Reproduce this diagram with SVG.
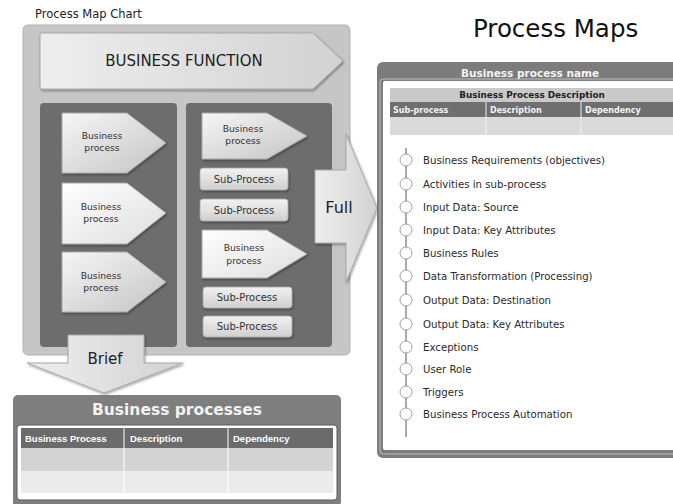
<svg xmlns="http://www.w3.org/2000/svg" width="673" height="504" viewBox="0 0 673 504">
<defs>
<linearGradient id="gArrow" x1="0" y1="0" x2="1" y2="1">
<stop offset="0" stop-color="#f6f6f6"/>
<stop offset="1" stop-color="#c4c4c4"/>
</linearGradient>
<linearGradient id="gArrowLight" x1="0" y1="0" x2="1" y2="1">
<stop offset="0" stop-color="#ffffff"/>
<stop offset="1" stop-color="#dedede"/>
</linearGradient>
<linearGradient id="gSub" x1="0" y1="0" x2="0" y2="1">
<stop offset="0" stop-color="#f2f2f2"/>
<stop offset="1" stop-color="#cfcfcf"/>
</linearGradient>
<linearGradient id="gBig" x1="0" y1="0" x2="1" y2="0">
<stop offset="0" stop-color="#eeeeee"/>
<stop offset="1" stop-color="#d2d2d2"/>
</linearGradient>
<filter id="sh" x="-10%" y="-10%" width="130%" height="130%">
<feDropShadow dx="1" dy="1.5" stdDeviation="1" flood-color="#000" flood-opacity="0.35"/>
</filter>
</defs>
<style>
text{font-family:"DejaVu Sans","Liberation Sans",sans-serif;}
.arrow{stroke:#a8a8a8;stroke-width:1;filter:url(#sh);}
.sub{fill:url(#gSub);stroke:#a8a8a8;stroke-width:0.8;filter:url(#sh);}
.bp{font-size:9.2px;fill:#333;text-anchor:middle;}
.sp{font-size:10px;fill:#333;text-anchor:middle;}
.item{font-size:10.2px;fill:#2a2a2a;}
.dot{fill:#fff;stroke:#a0a0a0;stroke-width:1;}
.hdr{font-size:9.5px;font-weight:bold;fill:#fff;font-family:"Liberation Sans",sans-serif;}
.shdr{font-size:8px;font-weight:bold;fill:#f4f4f4;}
</style>

<text x="35" y="18" font-size="11.5" fill="#222">Process Map Chart</text>
<text x="473" y="37" font-size="24.5" fill="#111">Process Maps</text>

<g id="chart-panel">
<rect x="23" y="25" width="327" height="330" rx="5" fill="#c6c6c6" stroke="#b2b2b2" stroke-width="1"/>
</g>

<g id="business-function">
<path class="arrow" d="M42,33 H313 L343,61 L313,89 H42 Q40,89 40,87 V35 Q40,33 42,33 Z" fill="url(#gBig)"/>
<text x="184" y="66" font-size="15" fill="#222" text-anchor="middle">BUSINESS FUNCTION</text>
</g>

<g id="left-panel">
<rect x="40" y="103" width="137" height="244" rx="4" fill="#6d6d6d"/>
</g>
<g id="right-panel">
<rect x="186" y="103" width="146" height="244" rx="4" fill="#6d6d6d"/>
</g>

<g id="bp-left-1">
<path class="arrow" d="M62,113 H127 L166,143 L127,173 H62 Z" fill="url(#gArrow)"/>
<text class="bp" x="102" y="139">Business</text>
<text class="bp" x="102" y="151">process</text>
</g>
<g id="bp-left-2">
<path class="arrow" d="M62,183 H127 L166,213 L127,244 H62 Z" fill="url(#gArrowLight)"/>
<text class="bp" x="101" y="210">Business</text>
<text class="bp" x="101" y="222">process</text>
</g>
<g id="bp-left-3">
<path class="arrow" d="M62,252 H127 L166,282 L127,312 H62 Z" fill="url(#gArrow)"/>
<text class="bp" x="101" y="279">Business</text>
<text class="bp" x="101" y="291">process</text>
</g>

<g id="bp-right-1">
<path class="arrow" d="M202,113 H267 L307,136 L267,159 H202 Z" fill="url(#gArrow)"/>
<text class="bp" x="243" y="132">Business</text>
<text class="bp" x="243" y="144">process</text>
</g>
<g id="sub-1">
<rect class="sub" x="200" y="168" width="88" height="22" rx="3"/>
<text class="sp" x="244" y="183">Sub-Process</text>
</g>
<g id="sub-2">
<rect class="sub" x="200" y="199" width="88" height="22" rx="3"/>
<text class="sp" x="244" y="214">Sub-Process</text>
</g>
<g id="bp-right-2">
<path class="arrow" d="M202,230 H267 L307,254 L267,278 H202 Z" fill="url(#gArrowLight)"/>
<text class="bp" x="244" y="251">Business</text>
<text class="bp" x="244" y="264">process</text>
</g>
<g id="sub-3">
<rect class="sub" x="203" y="287" width="89" height="21" rx="3"/>
<text class="sp" x="247" y="301">Sub-Process</text>
</g>
<g id="sub-4">
<rect class="sub" x="203" y="316" width="89" height="21" rx="3"/>
<text class="sp" x="247" y="330">Sub-Process</text>
</g>

<g id="connectors">
<g id="full-arrow">
<path class="arrow" d="M315,170 H346 V134 L377,208 L346,282 V243 H315 Z" fill="url(#gBig)"/>
<text x="339" y="213" font-size="16" fill="#222" text-anchor="middle">Full</text>
</g>
<g id="brief-arrow">
<path class="arrow" d="M68,335 H144 V363 H183 L104,393 L27,363 H68 Z" fill="url(#gBig)"/>
<text x="105" y="364" font-size="15" fill="#222" text-anchor="middle">Brief</text>
</g>
</g>

<g id="business-processes">
<rect x="13" y="395" width="328" height="112" rx="5" fill="#7e7e7e"/>
<text x="177" y="415" font-size="15.5" font-weight="bold" fill="#f2f2f2" text-anchor="middle">Business processes</text>
<rect x="17" y="425" width="320" height="75" rx="3" fill="#ffffff" stroke="#5a5a5a" stroke-width="1"/>
<rect x="21" y="428" width="312" height="20" fill="#6b6b6b"/>
<rect x="21" y="448" width="312" height="23" fill="#d3d3d3"/>
<rect x="21" y="471" width="312" height="22" fill="#ebebeb"/>
<line x1="124" y1="428" x2="124" y2="493" stroke="#ffffff" stroke-width="1"/>
<line x1="228" y1="428" x2="228" y2="493" stroke="#ffffff" stroke-width="1"/>
<text class="hdr" x="25" y="442">Business Process</text>
<text class="hdr" x="130" y="442">Description</text>
<text class="hdr" x="233" y="442">Dependency</text>
</g>

<g id="process-map">
<rect x="377" y="62" width="310" height="396" rx="6" fill="#7c7c7c"/>
<rect x="380" y="79" width="310" height="375" rx="3" fill="none" stroke="#bdbdbd" stroke-width="1"/>
<rect x="383" y="81" width="300" height="369" rx="2" fill="#ffffff"/>
<text x="530" y="77" font-size="10.5" font-weight="bold" fill="#f4f4f4" text-anchor="middle">Business process name</text>
<rect x="390" y="88" width="283" height="14" fill="#c9c9c9"/>
<text x="532" y="98" font-size="8.8" font-weight="bold" fill="#222" text-anchor="middle">Business Process Description</text>
<rect x="390" y="102" width="283" height="15" fill="#6f6f6f"/>
<rect x="390" y="117" width="283" height="18" fill="#dadada"/>
<line x1="486" y1="102" x2="486" y2="135" stroke="#f0f0f0" stroke-width="1"/>
<line x1="581" y1="102" x2="581" y2="135" stroke="#f0f0f0" stroke-width="1"/>
<text class="shdr" x="393" y="112.5">Sub-process</text>
<text class="shdr" x="490" y="112.5">Description</text>
<text class="shdr" x="585" y="112.5">Dependency</text>
<line x1="406" y1="148" x2="406" y2="437" stroke="#707070" stroke-width="1.2"/>
<circle class="dot" cx="406" cy="160" r="6"/>
<circle class="dot" cx="406" cy="184" r="6"/>
<circle class="dot" cx="406" cy="207" r="6"/>
<circle class="dot" cx="406" cy="230" r="6"/>
<circle class="dot" cx="406" cy="253" r="6"/>
<circle class="dot" cx="406" cy="276" r="6"/>
<circle class="dot" cx="406" cy="300" r="6"/>
<circle class="dot" cx="406" cy="324" r="6"/>
<circle class="dot" cx="406" cy="347" r="6"/>
<circle class="dot" cx="406" cy="369" r="6"/>
<circle class="dot" cx="406" cy="392" r="6"/>
<circle class="dot" cx="406" cy="414" r="6"/>
<text class="item" x="423" y="163.5">Business Requirements (objectives)</text>
<text class="item" x="423" y="187.5">Activities in sub-process</text>
<text class="item" x="423" y="210.5">Input Data: Source</text>
<text class="item" x="423" y="233.5">Input Data: Key Attributes</text>
<text class="item" x="423" y="256.5">Business Rules</text>
<text class="item" x="423" y="279.5">Data Transformation (Processing)</text>
<text class="item" x="423" y="303.5">Output Data: Destination</text>
<text class="item" x="423" y="327.5">Output Data: Key Attributes</text>
<text class="item" x="423" y="350.5">Exceptions</text>
<text class="item" x="423" y="372.5">User Role</text>
<text class="item" x="423" y="395.5">Triggers</text>
<text class="item" x="423" y="417.5">Business Process Automation</text>
</g>
</svg>
